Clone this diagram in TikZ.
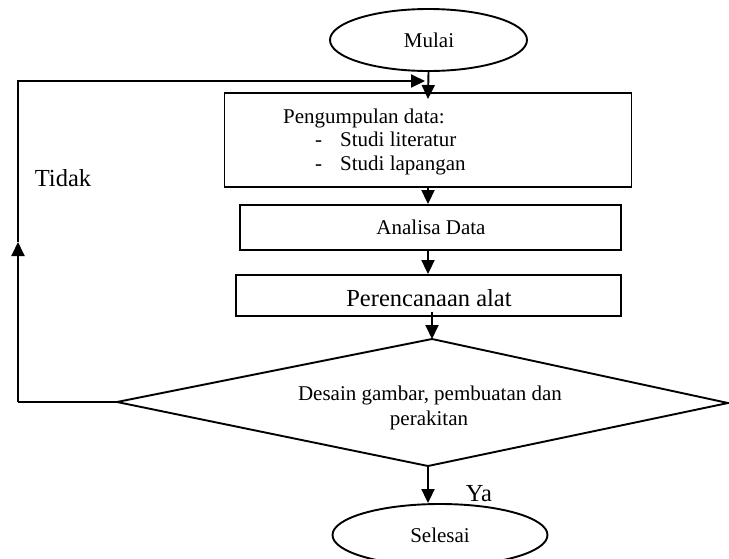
\documentclass[tikz,border=0pt]{standalone}
\usepackage{fontspec}
\setmainfont{Liberation Serif}
\usetikzlibrary{shapes.geometric,arrows.meta}
\tikzset{
  ln/.style={line width=1.9pt},
  arr/.style={ln,-{Triangle[length=14pt,width=13pt]}},
  boxnode/.style={draw,ln,rectangle,inner sep=0pt},
  ovalnode/.style={draw,ln,ellipse,inner sep=0pt},
  txt/.style={font=\fontsize{21}{23.5}\selectfont,inner sep=0pt,text height=14pt,text depth=4.5pt},
  bigtxt/.style={font=\fontsize{24.5}{27}\selectfont,inner sep=0pt,text height=16.5pt,text depth=5pt},
}
\begin{document}
\begin{tikzpicture}[x=1pt,y=-1pt]
\useasboundingbox (0,0) rectangle (729,558);
% shapes
\node[ovalnode,minimum width=197pt,minimum height=62pt] (mulai) at (428.5,40) {};
\node[txt] (mulaitxt) at (429,43) {Mulai};
\node[boxnode,minimum width=407pt,minimum height=94pt] (box1) at (428,140) {};
\node[txt,anchor=west] (t1) at (283,119) {Pengumpulan data:};
\node[txt,anchor=west] (d1) at (315,142) {-};
\node[txt,anchor=west] (t2) at (340,142) {Studi literatur};
\node[txt,anchor=west] (d2) at (315,166) {-};
\node[txt,anchor=west] (t3) at (340,166) {Studi lapangan};
\node[boxnode,minimum width=381pt,minimum height=45pt] (box2) at (430.5,227.5) {};
\node[txt] (box2txt) at (431,230) {Analisa Data};
\node[boxnode,minimum width=385pt,minimum height=41pt] (box3) at (428.5,295.5) {};
\node[bigtxt] (box3txt) at (429,301) {Perencanaan alat};
% decision diamond
\coordinate (dtop) at (432,339);
\coordinate (dleft) at (117,402);
\coordinate (dright) at (728,403);
\coordinate (dbot) at (428,466);
\draw[ln,line join=miter] (dtop) -- (dright) -- (dbot) -- (dleft) -- cycle;
\node[txt] (dectxt1) at (430,396) {Desain gambar, pembuatan dan};
\node[txt] (dectxt2) at (429,420.5) {perakitan};
\node[ovalnode,minimum width=215pt,minimum height=62pt] (selesai) at (440,535) {};
\node[txt] (selesaitxt) at (440,538) {Selesai};
\node[bigtxt] (tidak) at (63,181) {Tidak};
\node[bigtxt] (ya) at (479,496) {Ya};
% coordinates
\coordinate (m1) at (428,99);
\coordinate (lb) at (18,402);
\coordinate (lm) at (18,242);
\coordinate (lt) at (18,81);
\coordinate (tt) at (425,81);
\coordinate (b3s) at (432,312);
% connectors
\draw[arr] (mulai.south) -- (m1);
\draw[arr] (box1.south) -- (box1.south |- box2.north);
\draw[arr] (box2.south -| box1.south) -- (box3.north -| box1.south);
\draw[arr] (b3s) -- (dtop);
\draw[arr] (dbot) -- (dbot |- selesai.north);
\draw[ln] (dleft) -- (lb);
\draw[arr] (lb) -- (lm);
\draw[arr] (lm) -- (lt) -- (tt);
\end{tikzpicture}
\end{document}
